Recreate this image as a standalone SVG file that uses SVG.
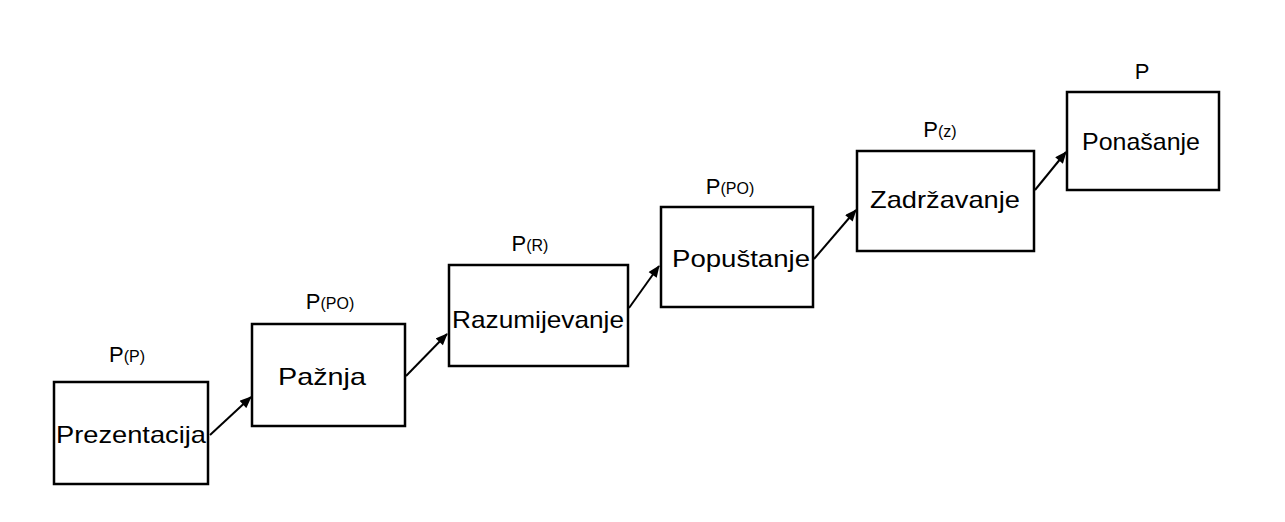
<svg xmlns="http://www.w3.org/2000/svg" width="1285" height="522" viewBox="0 0 1285 522">
<defs>
<style>
.box{fill:#fff;stroke:#000;stroke-width:2.5}
.t{font-family:"Liberation Sans",Arial,sans-serif;font-size:24px;fill:#000;text-anchor:middle}
.l{font-family:"Liberation Sans",Arial,sans-serif;font-size:22px;fill:#000;text-anchor:middle}
.s{font-size:16px}
.c{stroke:#000;stroke-width:2;fill:none;marker-end:url(#ah)}
</style>
<marker id="ah" viewBox="0 0 12 10" refX="11" refY="5" markerWidth="13" markerHeight="10" markerUnits="userSpaceOnUse" orient="auto">
<path d="M0,0 L12,5 L0,10 Z" fill="#000"/>
</marker>
</defs>
<rect width="1285" height="522" fill="#fff"/>
<g id="connectors">
<line class="c" x1="210" y1="435" x2="251" y2="397"/>
<line class="c" x1="406" y1="376" x2="447" y2="334"/>
<line class="c" x1="629" y1="308" x2="659" y2="266"/>
<line class="c" x1="814" y1="259" x2="856" y2="210"/>
<line class="c" x1="1035" y1="190" x2="1066" y2="152"/>
</g>
<g id="n1">
<rect class="box" x="54" y="382" width="154" height="102"/>
<text class="t" x="131" y="443" textLength="150" lengthAdjust="spacingAndGlyphs">Prezentacija</text>
<text class="l" x="127" y="362">P<tspan class="s">(P)</tspan></text>
</g>
<g id="n2">
<rect class="box" x="252" y="324" width="153" height="102"/>
<text class="t" x="322" y="385" textLength="88" lengthAdjust="spacingAndGlyphs">Pažnja</text>
<text class="l" x="330" y="309">P<tspan class="s">(PO)</tspan></text>
</g>
<g id="n3">
<rect class="box" x="449" y="265" width="179" height="101"/>
<text class="t" x="538" y="328" textLength="172" lengthAdjust="spacingAndGlyphs">Razumijevanje</text>
<text class="l" x="530" y="251">P<tspan class="s">(R)</tspan></text>
</g>
<g id="n4">
<rect class="box" x="661" y="207" width="152" height="100"/>
<text class="t" x="741" y="267" textLength="138" lengthAdjust="spacingAndGlyphs">Popuštanje</text>
<text class="l" x="730" y="194">P<tspan class="s">(PO)</tspan></text>
</g>
<g id="n5">
<rect class="box" x="857" y="151" width="177" height="100"/>
<text class="t" x="945" y="208" textLength="150" lengthAdjust="spacingAndGlyphs">Zadržavanje</text>
<text class="l" x="940" y="137">P<tspan class="s">(z)</tspan></text>
</g>
<g id="n6">
<rect class="box" x="1067" y="92" width="152" height="98"/>
<text class="t" x="1141" y="150" textLength="118" lengthAdjust="spacingAndGlyphs">Ponašanje</text>
<text class="l" x="1142" y="79">P</text>
</g>
</svg>
